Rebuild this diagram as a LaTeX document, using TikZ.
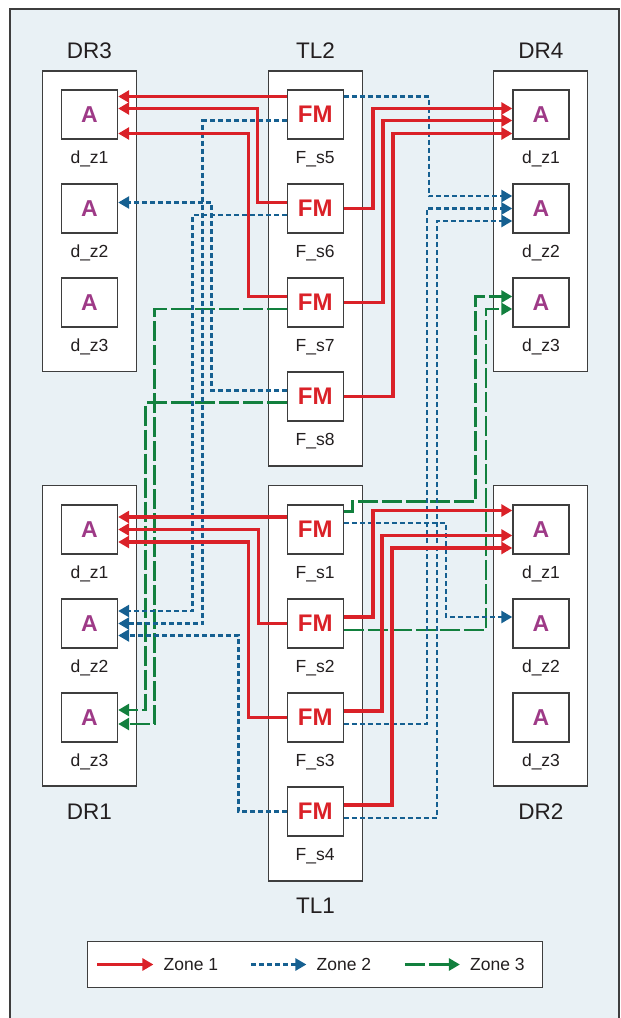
\documentclass[tikz,border=0pt]{standalone}
\usepackage{fontspec}
\setmainfont{Liberation Sans}
\usetikzlibrary{arrows.meta, positioning}
\definecolor{panelblue}{RGB}{233, 241, 245}
\definecolor{zonered}{RGB}{218, 33, 40}
\definecolor{zoneblue}{RGB}{22, 96, 145}
\definecolor{zonegreen}{RGB}{18, 128, 62}
\definecolor{apurple}{RGB}{158, 58, 135}
\definecolor{edgegray}{RGB}{62, 62, 62}
\definecolor{inkgray}{RGB}{35, 31, 32}

\begin{document}
\begin{tikzpicture}[x=1pt, y=-1pt,
  rack/.style={draw=edgegray, line width=1.2pt, fill=white, minimum width=94pt, inner sep=0pt},
  cellbox/.style={draw=edgegray, line width=1.4pt, fill=white, minimum width=56pt, minimum height=49pt, inner sep=0pt},
  abox/.style={cellbox, text=apurple, font=\fontsize{23}{23}\selectfont\bfseries},
  fmbox/.style={cellbox, text=zonered, font=\fontsize{24}{24}\selectfont\bfseries},
  slotname/.style={anchor=base, inner sep=0pt, text=inkgray, font=\fontsize{17.5}{18}\selectfont},
  grouptitle/.style={anchor=base, inner sep=0pt, text=inkgray, font=\fontsize{22.5}{23}\selectfont},
  keytext/.style={inner sep=0pt, text=inkgray, font=\fontsize{17.5}{18}\selectfont},
  redlink/.style={draw=zonered, line width=3.2pt, -{Triangle[length=11pt, width=12pt]}},
  bluelink/.style={draw=zoneblue, line width=2.6pt, dash pattern=on 5pt off 3pt, -{Triangle[length=11pt, width=12pt]}},
  greenlink/.style={draw=zonegreen, line width=2.8pt, dash pattern=on 20pt off 4pt, -{Triangle[length=11pt, width=12pt]}}]

  % panel
  \useasboundingbox (0,0) rectangle (621,1018);
  \fill[panelblue] (10,9) rectangle (619,1018);
  \draw[edgegray, line width=1.5pt] (10,1018) -- (10,9) -- (619,9) -- (619,1018);

  % racks and their titles
  \node[rack, minimum height=300.7pt] (dr3) at (89.5,221.3) {};
  \node[rack, minimum height=395pt] (tl2) at (315.2,268.5) {};
  \node[rack, minimum height=300.7pt] (dr4) at (540.8,221.3) {};
  \node[rack, minimum height=300.3pt] (dr1) at (89.5,635.9) {};
  \node[rack, minimum height=395.3pt] (tl1) at (315.2,683.4) {};
  \node[rack, minimum height=300.3pt] (dr2) at (540.8,635.9) {};

  \node[grouptitle] (tdr3) at (89.5,58.3) {DR3};
  \node[grouptitle] (ttl2) at (315.5,58.3) {TL2};
  \node[grouptitle] (tdr4) at (541,58.3) {DR4};
  \node[grouptitle] (tdr1) at (89.5,819) {DR1};
  \node[grouptitle] (ttl1) at (315.5,913.3) {TL1};
  \node[grouptitle] (tdr2) at (541,819) {DR2};

  % upper row
  \node[abox] (a31) at (89.5,114.5) {A};
  \node[abox] (a32) at (89.5,208.5) {A};
  \node[abox] (a33) at (89.5,302.5) {A};
  \node[fmbox] (f5) at (315.2,114.5) {FM};
  \node[fmbox] (f6) at (315.2,208.5) {FM};
  \node[fmbox] (f7) at (315.2,302.5) {FM};
  \node[fmbox] (f8) at (315.2,396.5) {FM};
  \node[abox] (a41) at (541,114.5) {A};
  \node[abox] (a42) at (541,208.5) {A};
  \node[abox] (a43) at (541,302.5) {A};

  \node[slotname] (n31) at ([yshift=-49pt]a31.center) {d\_z1};
  \node[slotname] (n32) at ([yshift=-49pt]a32.center) {d\_z2};
  \node[slotname] (n33) at ([yshift=-49pt]a33.center) {d\_z3};
  \node[slotname] (n5) at ([yshift=-49pt]f5.center) {F\_s5};
  \node[slotname] (n6) at ([yshift=-49pt]f6.center) {F\_s6};
  \node[slotname] (n7) at ([yshift=-49pt]f7.center) {F\_s7};
  \node[slotname] (n8) at ([yshift=-49pt]f8.center) {F\_s8};
  \node[slotname] (n41) at ([yshift=-49pt]a41.center) {d\_z1};
  \node[slotname] (n42) at ([yshift=-49pt]a42.center) {d\_z2};
  \node[slotname] (n43) at ([yshift=-49pt]a43.center) {d\_z3};

  % lower row
  \node[abox] (a11) at (89.5,529.5) {A};
  \node[abox] (a12) at (89.5,623.5) {A};
  \node[abox] (a13) at (89.5,717.5) {A};
  \node[fmbox] (f1) at (315.2,529.5) {FM};
  \node[fmbox] (f2) at (315.2,623.5) {FM};
  \node[fmbox] (f3) at (315.2,717.5) {FM};
  \node[fmbox] (f4) at (315.2,811.5) {FM};
  \node[abox] (a21) at (541,529.5) {A};
  \node[abox] (a22) at (541,623.5) {A};
  \node[abox] (a23) at (541,717.5) {A};

  \node[slotname] (n11) at ([yshift=-49pt]a11.center) {d\_z1};
  \node[slotname] (n12) at ([yshift=-49pt]a12.center) {d\_z2};
  \node[slotname] (n13) at ([yshift=-49pt]a13.center) {d\_z3};
  \node[slotname] (n1) at ([yshift=-49pt]f1.center) {F\_s1};
  \node[slotname] (n2) at ([yshift=-49pt]f2.center) {F\_s2};
  \node[slotname] (n3) at ([yshift=-49pt]f3.center) {F\_s3};
  \node[slotname] (n4) at ([yshift=-49pt]f4.center) {F\_s4};
  \node[slotname] (n21) at ([yshift=-49pt]a21.center) {d\_z1};
  \node[slotname] (n22) at ([yshift=-49pt]a22.center) {d\_z2};
  \node[slotname] (n23) at ([yshift=-49pt]a23.center) {d\_z3};

  % zone 3 paths
  \draw[greenlink] ([yshift=-6.5pt]f7.west) -- ++(-132,0) |- ([yshift=-6.5pt]a13.east);
  \draw[greenlink] ([yshift=-6pt]f8.west) -- ++(-141,0) |- ([yshift=7.5pt]a13.east);
  \draw[greenlink] ([yshift=18pt]f1.east) -- ++(8.5,0) -- ++(0,-10) -- ++(123,0) |- ([yshift=6pt]a43.west);
  \draw[greenlink] ([yshift=-6.5pt]f2.east) -- ++(142,0) |- ([yshift=-6.5pt]a43.west);

  % zone 2 paths
  \draw[bluelink] ([yshift=18pt]f5.east) -- ++(85,0) |- ([yshift=12.5pt]a42.west);
  \draw[bluelink] ([yshift=-6pt]f5.west) -- ++(-84,0) |- (a12.east);
  \draw[bluelink] ([yshift=-6.5pt]f6.west) -- ++(-94,0) |- ([yshift=12.5pt]a12.east);
  \draw[bluelink] ([yshift=6pt]f8.west) -- ++(-75,0) |- ([yshift=6pt]a32.east);
  \draw[bluelink] (f4.west) -- ++(-48,0) |- ([yshift=-12pt]a12.east);
  \draw[bluelink] ([yshift=-6.5pt]f3.east) -- ++(83,0) |- (a42.west);
  \draw[bluelink] ([yshift=-6.5pt]f4.east) -- ++(93,0) |- ([yshift=-12.5pt]a42.west);
  \draw[bluelink] ([yshift=6.5pt]f1.east) -- ++(102,0) |- ([yshift=6.5pt]a22.west);

  % zone 1 paths
  \draw[redlink] ([yshift=18pt]f5.west) -- ([yshift=18pt]a31.east);
  \draw[redlink] ([yshift=6pt]f6.west) -- ++(-29,0) |- ([yshift=6pt]a31.east);
  \draw[redlink] ([yshift=6pt]f7.west) -- ++(-38,0) |- ([yshift=-19pt]a31.east);
  \draw[redlink] (f6.east) -- ++(29,0) |- ([yshift=6pt]a41.west);
  \draw[redlink] (f7.east) -- ++(39,0) |- ([yshift=-6pt]a41.west);
  \draw[redlink] (f8.east) -- ++(49,0) |- ([yshift=-19pt]a41.west);
  \draw[redlink] ([yshift=12.5pt]f1.west) -- ([yshift=12.5pt]a11.east);
  \draw[redlink] (f2.west) -- ++(-28,0) |- (a11.east);
  \draw[redlink] (f3.west) -- ++(-38,0) |- ([yshift=-12.5pt]a11.east);
  \draw[redlink] ([yshift=6.5pt]f2.east) -- ++(29,0) |- ([yshift=19pt]a21.west);
  \draw[redlink] ([yshift=6.5pt]f3.east) -- ++(38,0) |- ([yshift=-6pt]a21.west);
  \draw[redlink] ([yshift=6.5pt]f4.east) -- ++(48,0) |- ([yshift=-18.5pt]a21.west);

  % legend
  \node[draw=edgegray, line width=1.2pt, fill=white, minimum width=455pt, minimum height=46pt, inner sep=0pt] (legend) at (315,964.5) {};
  \coordinate (k1) at ([xshift=10.5pt]legend.west);
  \coordinate (k2) at ([xshift=164.5pt]legend.west);
  \coordinate (k3) at ([xshift=318pt]legend.west);
  \draw[redlink] (k1) -- ++(56,0) coordinate (k1e);
  \draw[bluelink] (k2) -- ++(55,0) coordinate (k2e);
  \draw[greenlink] (k3) -- ++(55,0) coordinate (k3e);
  \node[keytext, right=10pt of k1e] (zone1) {Zone 1};
  \node[keytext, right=10pt of k2e] (zone2) {Zone 2};
  \node[keytext, right=10pt of k3e] (zone3) {Zone 3};
\end{tikzpicture}
\end{document}
